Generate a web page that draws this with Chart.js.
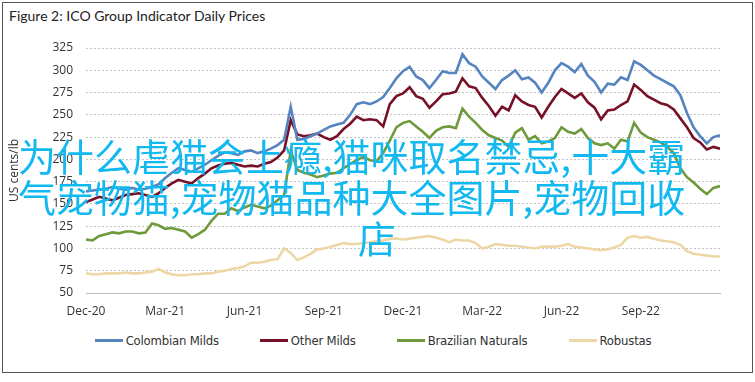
<!DOCTYPE html>
<html>
<head>
<meta charset="utf-8">
<script src="https://cdn.jsdelivr.net/npm/chart.js@4.4.0/dist/chart.umd.min.js"></script>
<style>
    html, body { margin: 0; padding: 0; background: #fff; }
    #wrap { position: relative; width: 755px; height: 382px; overflow: hidden; }
    #frame { position: absolute; left: 2px; top: 2px; width: 749px; height: 369px; border: 1px solid #555; }
    #title { position: absolute; left: 9px; top: 7px; font: 14px Lato, sans-serif; color: #222; }
    #chartBox { position: absolute; left: 0; top: 0; width: 755px; height: 320px; }
    #legend { position: absolute; left: 0; top: 333px; width: 746px; display: flex; justify-content: center; gap: 41px;
        font-family: "DejaVu Sans", sans-serif; font-size: 13px; letter-spacing: -0.2px; font-stretch: condensed; color: #333; }
    #legend .item { display: flex; align-items: center; }
    #legend .swatch { width: 28px; height: 3px; margin-right: 3px; }
    .overlay { position: absolute; font-family: "Noto Sans CJK SC", sans-serif; font-size: 38px; line-height: 41px;
        color: #12b8f0; white-space: nowrap; }
</style>
</head>
<body>
<div id="wrap">
    <div id="frame"></div>
    <div id="title">Figure 2: ICO Group Indicator Daily Prices</div>
    <div id="chartBox"><canvas id="chart" width="755" height="320"></canvas></div>
    <div id="legend"></div>
    <div class="overlay" style="left:18px; top:134px">为什么虐猫会上瘾,猫咪取名禁忌,十大霸</div>
    <div class="overlay" style="left:18px; top:175px">气宠物猫,宠物猫品种大全图片,宠物回收</div>
    <div class="overlay" style="left:358px; top:216px">店</div>
</div>
<script>
// one point every quarter month, Dec-20 .. end Nov-22
const tickLabels = ['Dec-20', 'Mar-21', 'Jun-21', 'Sep-21', 'Dec-21', 'Mar-22', 'Jun-22', 'Sep-22']
const seriesNames = ['Colombian Milds', 'Other Milds', 'Brazilian Naturals', 'Robustas']

const colombianMilds = [164, 165, 166, 167, 169, 167, 166, 168, 166, 167, 169, 172, 179, 185, 190, 188,
    186, 190, 194, 199, 204, 208, 207, 205, 209, 210, 207, 209, 212, 216, 222, 259,
    222, 223, 226, 229, 233, 237, 239, 241, 250, 262, 264, 262, 265, 270, 280, 291,
    299, 304, 293, 289, 280, 289, 299, 297, 297, 318, 308, 304, 293, 286, 279, 289,
    294, 300, 290, 292, 286, 275, 286, 300, 308, 304, 298, 307, 294, 287, 275, 285,
    284, 292, 289, 310, 306, 300, 294, 290, 286, 282, 272, 252, 236, 226, 218, 225, 227]

const otherMilds = [152, 155, 158, 156, 154, 157, 160, 161, 162, 160, 158, 162, 168, 173, 177, 175,
    173, 179, 184, 190, 193, 195, 196, 194, 192, 193, 192, 195, 197, 202, 210, 244,
    228, 226, 227, 229, 225, 222, 226, 234, 240, 248, 244, 245, 244, 237, 262, 271,
    274, 281, 271, 268, 258, 265, 273, 274, 276, 291, 282, 280, 269, 260, 249, 259,
    255, 272, 265, 261, 259, 247, 259, 270, 279, 274, 269, 274, 264, 258, 245, 255,
    256, 261, 265, 284, 278, 271, 267, 263, 261, 256, 246, 236, 224, 219, 211, 214, 212]

const brazilianNaturals = [110, 109, 114, 116, 118, 117, 119, 119, 117, 118, 128, 126, 122, 123, 121, 119,
    112, 116, 121, 131, 139, 139, 145, 142, 146, 149, 147, 145, 148, 154, 160, 210,
    188, 185, 183, 180, 182, 184, 185, 190, 195, 199, 203, 199, 198, 207, 221, 236,
    241, 243, 237, 231, 224, 232, 236, 237, 235, 257, 248, 241, 233, 227, 224, 221,
    214, 230, 235, 222, 226, 218, 220, 224, 236, 231, 229, 234, 224, 218, 216, 218,
    212, 222, 220, 241, 230, 225, 222, 219, 214, 207, 190, 180, 174, 167, 161, 168, 170]

const robustas = [72, 71, 71, 72, 72, 72, 73, 72, 72, 73, 74, 77, 73, 71, 70, 70,
    71, 71, 72, 72, 74, 75, 77, 78, 80, 84, 84, 85, 87, 88, 100, 95,
    87, 90, 94, 99, 100, 102, 104, 106, 105, 105, 106, 107, 108, 109, 111, 111,
    110, 111, 112, 113, 114, 112, 110, 107, 110, 109, 109, 106, 100, 102, 105, 104,
    103, 103, 102, 101, 100, 102, 102, 102, 103, 105, 102, 101, 100, 99, 98, 99,
    101, 104, 112, 114, 112, 113, 111, 109, 108, 107, 104, 97, 94, 93, 92, 91, 91]

const colors = ['#5584bf', '#771127', '#6e9a3c', '#eed7a6']
const stepsPerTick = 12

const allSeries = [colombianMilds, otherMilds, brazilianNaturals, robustas]

const datasets = allSeries.map((vals, n) => ({
    label: seriesNames[n],
    data: vals.map((v, i) => ({x: i, y: v})),
    borderColor: colors[n],
    backgroundColor: colors[n],
    borderWidth: 2.6,
    pointRadius: 0,
    tension: 0,
    order: n
}))

const tickFont = {family: '"Open Sans", sans-serif', size: 12}

new Chart(document.getElementById('chart').getContext('2d'), {
    type: 'line',
    data: {datasets},
    options: {
        responsive: false,
        animation: false,
        layout: {padding: {left: 3, right: 35, top: 48, bottom: 0}},
        plugins: {
            legend: {display: false},
            tooltip: {enabled: false}
        },
        scales: {
            x: {
                type: 'linear',
                min: 0,
                max: 96,
                afterFit: s => { s.height = 27 },
                grid: {display: false, drawTicks: false},
                border: {display: true, color: '#bdbdbd', width: 1},
                ticks: {
                    stepSize: stepsPerTick,
                    autoSkip: false,
                    maxRotation: 0,
                    padding: 11,
                    color: '#333',
                    font: tickFont,
                    callback: v => (v % stepsPerTick === 0 && tickLabels[v / stepsPerTick]) || ''
                }
            },
            y: {
                min: 50,
                max: 325,
                afterFit: s => { s.width = 83 },
                grid: {color: '#c4c4c4', lineWidth: 1, drawTicks: false, borderDash: [2, 2]},
                border: {display: false, dash: [2, 2]},
                ticks: {stepSize: 25, padding: 13, color: '#333', font: tickFont},
                title: {display: true, text: 'US cents/lb', color: '#333', font: tickFont}
            }
        }
    }
})

let legendHtml = ''
for (let n in seriesNames) {
    legendHtml += `<div class="item"><div class="swatch" style="background:${colors[n]}"></div>${seriesNames[n]}</div>`
}
document.getElementById('legend').innerHTML = legendHtml
</script>
</body>
</html>
